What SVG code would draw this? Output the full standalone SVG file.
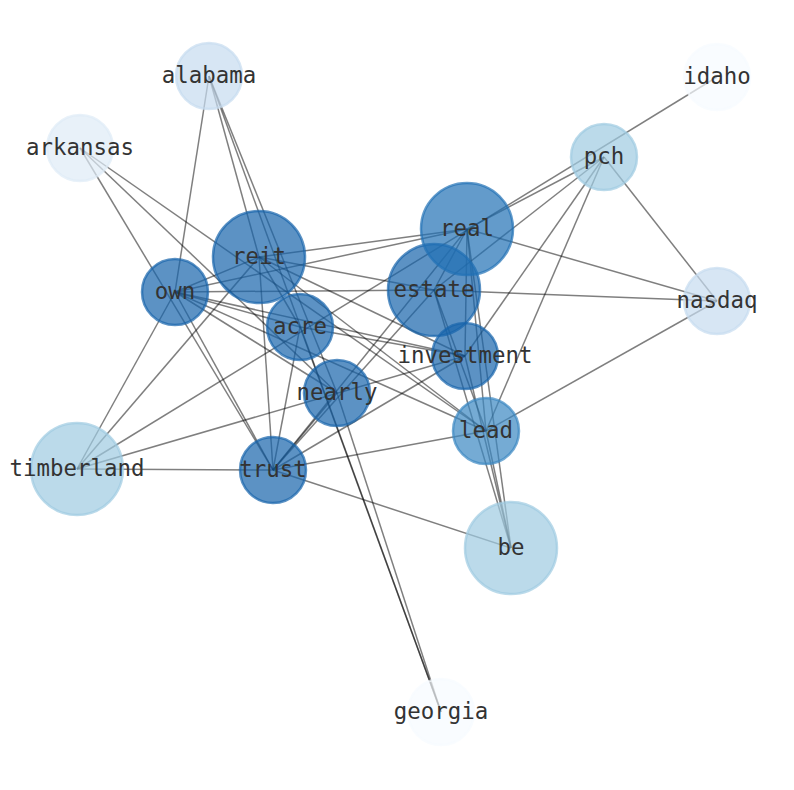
<svg xmlns="http://www.w3.org/2000/svg" width="794" height="790" viewBox="0 0 794 790">
<style>
.e{stroke:#000;stroke-opacity:0.5;stroke-width:1.5;fill:none}
.n circle{fill-opacity:0.7;stroke-opacity:0.7;stroke-width:2.5}
.n text{font-family:"DejaVu Sans Mono",monospace;font-size:22.4px;fill:#333;text-anchor:middle}
.d1 circle{fill:#1764ab;stroke:#1764ab}
.d2 circle{fill:#2171b5;stroke:#2171b5}
.d3 circle{fill:#3a87c2;stroke:#3a87c2}
.d4 circle{fill:#9ecae1;stroke:#9ecae1}
.d5 circle{fill:#c6dbef;stroke:#c6dbef}
.d6 circle{fill:#deebf7;stroke:#deebf7}
.d7 circle{fill:#f7fbff;stroke:#f7fbff}
</style>
<rect width="794" height="790" fill="#fff"/>
<g id="edges">
<line class="e" x1="209" y1="76" x2="175" y2="292"/>
<line class="e" x1="209" y1="76" x2="259" y2="257"/>
<line class="e" x1="209" y1="76" x2="441" y2="712"/>
<line class="e" x1="209" y1="76" x2="337" y2="393"/>
<line class="e" x1="80" y1="148" x2="273" y2="470"/>
<line class="e" x1="80" y1="148" x2="337" y2="393"/>
<line class="e" x1="80" y1="148" x2="486" y2="431"/>
<line class="e" x1="717" y1="77" x2="77" y2="469"/>
<line class="e" x1="604" y1="157" x2="717" y2="301"/>
<line class="e" x1="604" y1="157" x2="486" y2="431"/>
<line class="e" x1="604" y1="157" x2="465" y2="356"/>
<line class="e" x1="604" y1="157" x2="434" y2="290"/>
<line class="e" x1="604" y1="157" x2="467" y2="229"/>
<line class="e" x1="467" y1="229" x2="259" y2="257"/>
<line class="e" x1="467" y1="229" x2="175" y2="292"/>
<line class="e" x1="467" y1="229" x2="434" y2="290"/>
<line class="e" x1="467" y1="229" x2="717" y2="301"/>
<line class="e" x1="467" y1="229" x2="465" y2="356"/>
<line class="e" x1="467" y1="229" x2="486" y2="431"/>
<line class="e" x1="467" y1="229" x2="511" y2="548"/>
<line class="e" x1="467" y1="229" x2="273" y2="470"/>
<line class="e" x1="259" y1="257" x2="175" y2="292"/>
<line class="e" x1="259" y1="257" x2="300" y2="327"/>
<line class="e" x1="259" y1="257" x2="434" y2="290"/>
<line class="e" x1="259" y1="257" x2="465" y2="356"/>
<line class="e" x1="259" y1="257" x2="486" y2="431"/>
<line class="e" x1="259" y1="257" x2="273" y2="470"/>
<line class="e" x1="259" y1="257" x2="77" y2="469"/>
<line class="e" x1="434" y1="290" x2="175" y2="292"/>
<line class="e" x1="434" y1="290" x2="717" y2="301"/>
<line class="e" x1="434" y1="290" x2="273" y2="470"/>
<line class="e" x1="434" y1="290" x2="511" y2="548"/>
<line class="e" x1="434" y1="290" x2="486" y2="431"/>
<line class="e" x1="175" y1="292" x2="300" y2="327"/>
<line class="e" x1="175" y1="292" x2="465" y2="356"/>
<line class="e" x1="175" y1="292" x2="337" y2="393"/>
<line class="e" x1="175" y1="292" x2="273" y2="470"/>
<line class="e" x1="175" y1="292" x2="77" y2="469"/>
<line class="e" x1="175" y1="292" x2="486" y2="431"/>
<line class="e" x1="300" y1="327" x2="465" y2="356"/>
<line class="e" x1="300" y1="327" x2="273" y2="470"/>
<line class="e" x1="300" y1="327" x2="441" y2="712"/>
<line class="e" x1="465" y1="356" x2="77" y2="469"/>
<line class="e" x1="465" y1="356" x2="511" y2="548"/>
<line class="e" x1="465" y1="356" x2="273" y2="470"/>
<line class="e" x1="337" y1="393" x2="441" y2="712"/>
<line class="e" x1="337" y1="393" x2="273" y2="470"/>
<line class="e" x1="486" y1="431" x2="273" y2="470"/>
<line class="e" x1="486" y1="431" x2="511" y2="548"/>
<line class="e" x1="486" y1="431" x2="717" y2="301"/>
<line class="e" x1="273" y1="470" x2="77" y2="469"/>
<line class="e" x1="273" y1="470" x2="511" y2="548"/>
</g>
<g id="node-alabama" class="n d5"><circle cx="209" cy="76" r="33"/><text x="209" y="83">alabama</text></g>
<g id="node-idaho" class="n d7"><circle cx="717" cy="77" r="33"/><text x="717" y="84">idaho</text></g>
<g id="node-arkansas" class="n d6"><circle cx="80" cy="148" r="33"/><text x="80" y="155">arkansas</text></g>
<g id="node-pch" class="n d4"><circle cx="604" cy="157" r="33"/><text x="604" y="164">pch</text></g>
<g id="node-reit" class="n d1"><circle cx="259" cy="257" r="46"/><text x="259" y="264">reit</text></g>
<g id="node-own" class="n d1"><circle cx="175" cy="292" r="33"/><text x="175" y="299">own</text></g>
<g id="node-nasdaq" class="n d5"><circle cx="717" cy="301" r="33"/><text x="717" y="308">nasdaq</text></g>
<g id="node-estate" class="n d1"><circle cx="434" cy="290" r="46"/><text x="434" y="297">estate</text></g>
<g id="node-real" class="n d2"><circle cx="467" cy="229" r="46"/><text x="467" y="236">real</text></g>
<g id="node-acre" class="n d1"><circle cx="300" cy="327" r="33"/><text x="300" y="334">acre</text></g>
<g id="node-investment" class="n d1"><circle cx="465" cy="356" r="33"/><text x="465" y="363">investment</text></g>
<g id="node-nearly" class="n d1"><circle cx="337" cy="393" r="33"/><text x="337" y="400">nearly</text></g>
<g id="node-lead" class="n d3"><circle cx="486" cy="431" r="33"/><text x="486" y="438">lead</text></g>
<g id="node-timberland" class="n d4"><circle cx="77" cy="469" r="46"/><text x="77" y="476">timberland</text></g>
<g id="node-trust" class="n d1"><circle cx="273" cy="470" r="33"/><text x="273" y="477">trust</text></g>
<g id="node-be" class="n d4"><circle cx="511" cy="548" r="46"/><text x="511" y="555">be</text></g>
<g id="node-georgia" class="n d7"><circle cx="441" cy="712" r="33"/><text x="441" y="719">georgia</text></g>
</svg>
